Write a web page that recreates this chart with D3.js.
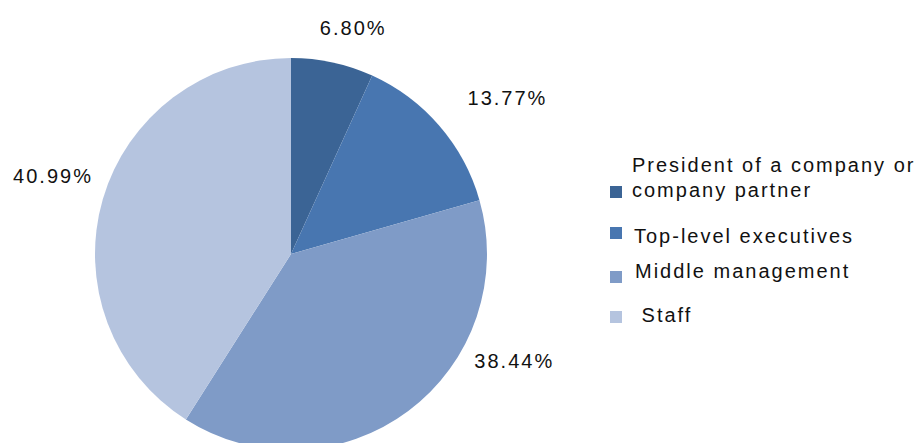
<!DOCTYPE html>
<html><head><meta charset="utf-8">
<script src="https://cdn.jsdelivr.net/npm/d3@7"></script>
<style>
html,body{margin:0;padding:0;background:#fff;}
svg{display:block;}
text{font-family:"Liberation Sans",Arial,sans-serif;fill:#111;}
</style></head>
<body>
<script>
const categories = ["President of a company or company partner", "Top-level executives", "Middle management", "Staff"];
const values = [6.80, 13.77, 38.44, 40.99];
const valueLabels = ["6.80%", "13.77%", "38.44%", "40.99%"];
const colors = ["#3B6495", "#4876B0", "#7F9BC7", "#B5C4DF"];
const legendLines = [["President of a company or", "company partner"], ["Top-level executives"], ["Middle management"], [" Staff"]];

const W = 919, H = 443;
const cx = 291, cy = 254, R = 196;
// label placement: radius factor and pixel nudges for each slice
const labelRadius = [1.16, 1.35, 1.0, 1.27];
const labelNudge = [[14, -4], [16, 17], [106, -50], [1, -8]];

const svg = d3.select("body").append("svg").attr("width", W).attr("height", H);
const g = svg.append("g").attr("transform", `translate(${cx},${cy})`);

const pie = d3.pie().sort(null).value(d => d)(values);
const arc = d3.arc().innerRadius(0).outerRadius(R);

g.selectAll("path").data(pie).join("path")
  .attr("d", arc).attr("fill", (d, i) => colors[i]);

g.selectAll("text.lbl").data(pie).join("text")
  .attr("class", "lbl")
  .attr("x", (d, i) => { const a = (d.startAngle + d.endAngle) / 2; return Math.sin(a) * R * labelRadius[i] + labelNudge[i][0]; })
  .attr("y", (d, i) => { const a = (d.startAngle + d.endAngle) / 2; return -Math.cos(a) * R * labelRadius[i] + labelNudge[i][1]; })
  .attr("text-anchor", "middle").attr("dominant-baseline", "central")
  .style("font-size", "20px").style("letter-spacing", "2px")
  .text((d, i) => valueLabels[i]);

const legend = svg.append("g");
const legSquareY = [192, 233, 277, 317];
const legTextY = [[165, 190], [236], [271], [315]];
const legTextX = [632, 634, 635, 634];
categories.forEach((c, i) => {
  const lines = legendLines[i];
  legend.append("rect").attr("x", 610).attr("y", legSquareY[i] - 6).attr("width", 12).attr("height", 12).attr("fill", colors[i]);
  lines.forEach((ln, j) => {
    legend.append("text")
      .attr("x", legTextX[i])
      .attr("y", legTextY[i][j])
      .attr("dominant-baseline", "central")
      .style("font-size", "20px").style("letter-spacing", "2px")
      .style("white-space", "pre")
      .text(ln);
  });
});
</script>
</body></html>
